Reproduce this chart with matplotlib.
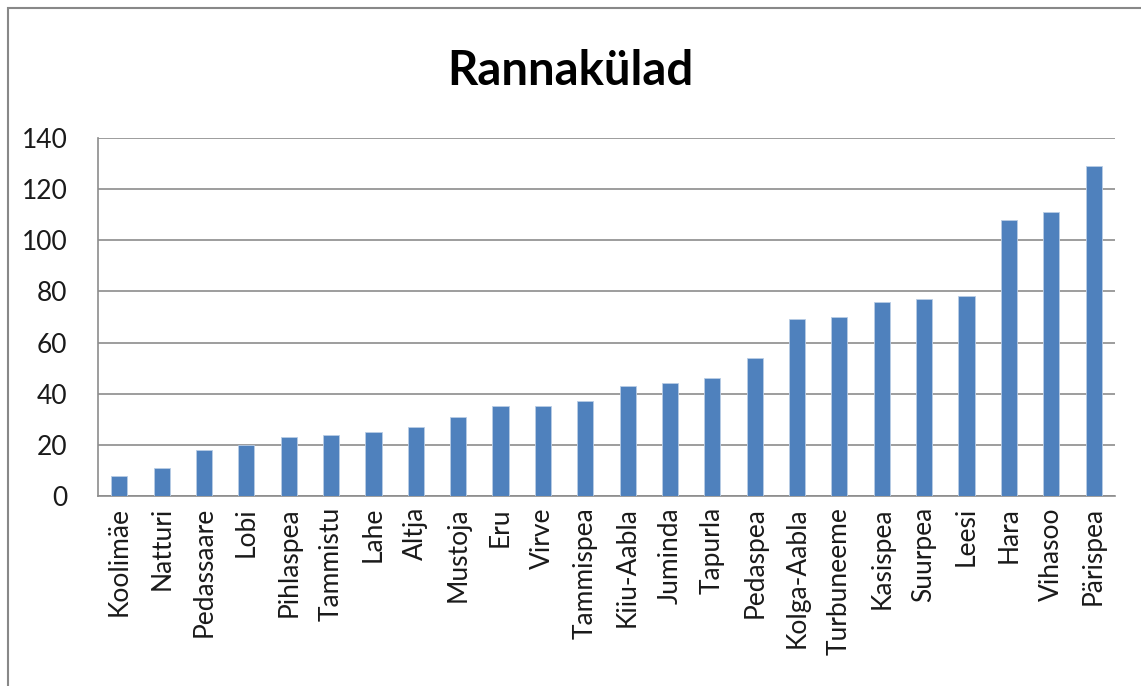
import matplotlib
matplotlib.use("Agg")
import matplotlib.pyplot as plt
from matplotlib.patches import Rectangle

villages = ["Koolimäe", "Natturi", "Pedassaare", "Lobi", "Pihlaspea", "Tammistu", "Lahe",
            "Altja", "Mustoja", "Eru", "Virve", "Tammispea", "Kiiu-Aabla", "Juminda",
            "Tapurla", "Pedaspea", "Kolga-Aabla", "Turbuneeme", "Kasispea", "Suurpea",
            "Leesi", "Hara", "Vihasoo", "Pärispea"]
values = [8, 11, 18, 20, 23, 24, 25, 27, 31, 35, 35, 37, 43, 44, 46, 54, 69, 70, 76, 77,
          78, 108, 111, 129]
yticks = [0, 20, 40, 60, 80, 100, 120, 140]

plt.rcParams['font.family'] = ['Lato', 'DejaVu Sans']

fig = plt.figure(figsize=(11.41, 6.86), dpi=100)
fig.patches.append(Rectangle((0.007, -0.1), 1.2, 1.088, transform=fig.transFigure,
                             fill=False, edgecolor='#888888', linewidth=1.5))
ax = fig.add_axes([0.086, 0.277, 0.891, 0.522])
x = list(range(len(villages)))
ax.bar(x, values, width=0.38, color='#4F81BD', edgecolor='#B9CDE5', linewidth=0.6, zorder=3)
ax.set_xlim(-0.5, len(villages) - 0.5)
ax.set_ylim(0, 140)
ax.set_yticks(yticks)
ax.set_yticklabels([str(t) for t in yticks], fontsize=19, color='#1a1a1a')
ax.set_xticks(x)
ax.set_xticklabels(villages, rotation=90, fontsize=19, color='#1a1a1a')
ax.yaxis.grid(True, color='#8C8C8C', linewidth=1.2, zorder=0)
ax.set_axisbelow(True)
for s in ['top', 'right']:
    ax.spines[s].set_visible(False)
ax.spines['left'].set_color('#8C8C8C')
ax.spines['bottom'].set_color('#8C8C8C')
ax.spines['left'].set_linewidth(1.2)
ax.spines['bottom'].set_linewidth(1.2)
ax.tick_params(axis='x', length=0, pad=8)
ax.tick_params(axis='y', length=0, pad=22)
fig.text(0.5, 0.897, "Rannakülad", ha='center', va='center', fontsize=34, fontweight='bold')
fig.savefig("out.png", dpi=100)
